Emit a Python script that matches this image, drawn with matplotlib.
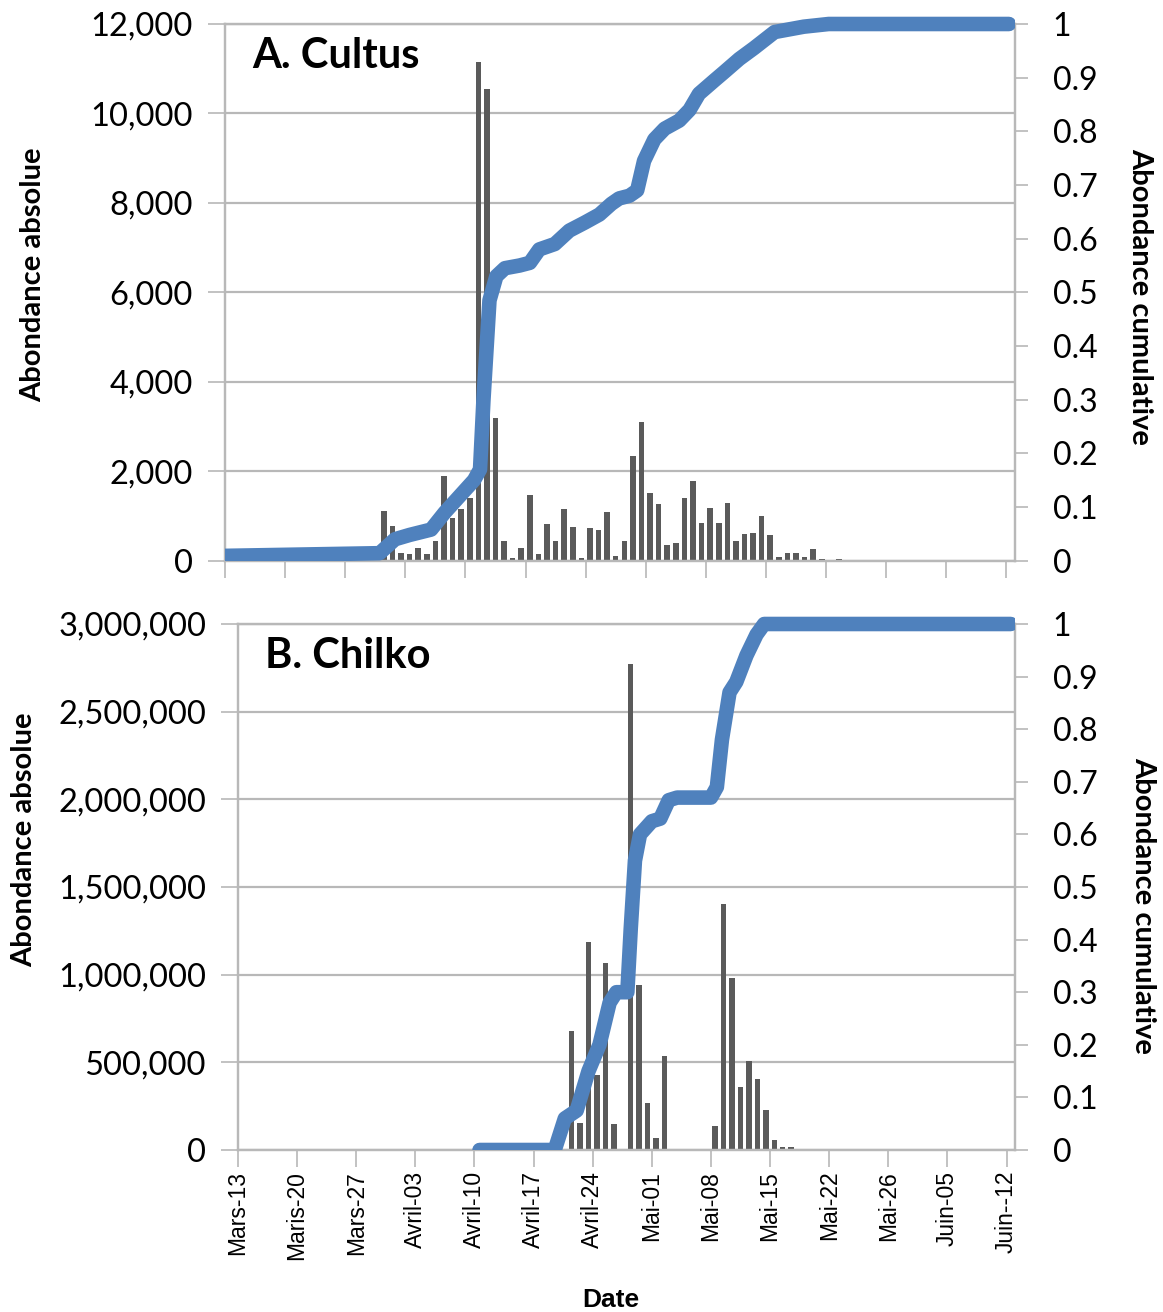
import numpy as np
import matplotlib
matplotlib.use("Agg")
import matplotlib.pyplot as plt
from matplotlib.transforms import Bbox, TransformedBbox

# day 0 = Mars-13, one tick per week
tick_days = np.arange(0, 92, 7)
tick_labels = ["Mars-13", "Maris-20", "Mars-27", "Avril-03", "Avril-10",
               "Avril-17", "Avril-24", "Mai-01", "Mai-08", "Mai-15",
               "Mai-22", "Mai-26", "Juin-05", "Juin--12"]

# Cultus: daily counts from day 18 on
cultus_start = 18
cultus_counts = [1110, 770, 180, 150, 295, 155, 450, 1900, 950, 1150,
                 1400, 11150, 10550, 3180, 450, 55, 280, 1460, 150, 820,
                 448, 1150, 760, 68, 740, 680, 1090, 105, 448, 2330,
                 3090, 1515, 1262, 360, 385, 1410, 1784, 851, 1168, 851,
                 1290, 448, 586, 612, 1000, 564, 90, 179, 179, 90,
                 270, 38, 0, 40]
cultus_cum_day = [0, 18, 19.8, 21.5, 24, 25.6, 27.3, 29, 29.7, 30.1, 30.8,
                  31.6, 32.6, 34.3, 35.5, 36.6, 38.4, 40.1, 41.9, 43.6, 45,
                  45.9, 47.1, 48, 48.8, 50, 51.2, 52.9, 54.1, 55.2, 57,
                  58.1, 59.9, 61.6, 62.8, 64, 65.7, 67.4, 70.3, 91.3]
cultus_cum = [0.009, 0.014, 0.04, 0.048, 0.058, 0.09, 0.12, 0.15, 0.17,
              0.30, 0.485, 0.53, 0.545, 0.55, 0.555, 0.58, 0.59, 0.615,
              0.63, 0.645, 0.665, 0.675, 0.68, 0.69, 0.745, 0.785, 0.805,
              0.82, 0.84, 0.87, 0.895, 0.91, 0.935, 0.955, 0.97, 0.985,
              0.99, 0.995, 1.0, 1.0]

# Chilko: daily counts from day 39 on
chilko_start = 39
chilko_counts = [680000, 155000, 1184000, 425000, 1066000, 150000, 0,
                 2770000, 940000, 266000, 67000, 538000, 0, 0, 0, 0, 0,
                 137000, 1403000, 979000, 361000, 509000, 407000, 228000,
                 57000, 15000, 19000, 7000, 7000]
chilko_cum_day = [28.6, 37.5, 38.7, 40.1, 41.5, 42.8, 44.0, 44.8, 46.1,
                  46.5, 47.0, 47.6, 49.0, 50.0, 51.0, 52.0, 56.0, 56.7,
                  57.3, 58.2, 59.0, 60.2, 61.4, 62.3, 91.5]
chilko_cum = [0, 0, 0.06, 0.075, 0.15, 0.2, 0.28, 0.30, 0.30, 0.42, 0.55,
              0.6, 0.625, 0.63, 0.665, 0.67, 0.67, 0.69, 0.78, 0.87, 0.89,
              0.94, 0.98, 1.0, 1.0]

BAR = "#5a5a5a"
LINE = "#4f81bd"
GRID = "#b8b8b8"
NUM_FONT = "Lato"

W, H = 1163, 1312
fig = plt.figure(figsize=(W / 100, H / 100), dpi=100)


def panel(left, top, right, bottom, start, counts, cum_day, cum, ymax,
          ystep, title, show_dates):
    ax = fig.add_axes([left / W, 1 - bottom / H, (right - left) / W,
                       (bottom - top) / H])
    days = np.arange(start, start + len(counts))
    ax.bar(days + 0.5, counts, width=0.65, color=BAR, zorder=2)
    ax.set_xlim(0, 92)
    ax.set_ylim(0, ymax)
    yt = np.arange(0, ymax + 1, ystep)
    ax.set_yticks(yt)
    ax.set_yticklabels([f"{int(v):,}" for v in yt], fontsize=23.5,
                       family=NUM_FONT)
    ax.yaxis.grid(True, color=GRID, lw=1.6, zorder=0)
    ax.set_axisbelow(True)
    ax.set_xticks(tick_days)
    if show_dates:
        ax.set_xticklabels(tick_labels, rotation=90, fontsize=16.5,
                           family="Liberation Sans")
    else:
        ax.set_xticklabels([])
    ax.tick_params(axis="x", length=12, width=1.2, color=GRID, pad=3)
    ax.tick_params(axis="y", length=12, width=1.2, color=GRID, pad=11)
    for s in ax.spines.values():
        s.set_color(GRID)
        s.set_linewidth(1.6)
    ax.text(0.035, 0.975, title, transform=ax.transAxes, fontsize=30,
            fontweight="bold", family=NUM_FONT, va="top", ha="left")

    ax2 = ax.twinx()
    ax2.set_ylim(0, 1)
    rt = np.round(np.arange(0, 1.01, 0.1), 1)
    ax2.set_yticks(rt)
    ax2.set_yticklabels([f"{v:g}" for v in rt], fontsize=23,
                        family=NUM_FONT)
    ax2.tick_params(axis="y", length=9, width=1.2, color=GRID, pad=18)
    for s in ax2.spines.values():
        s.set_color(GRID)
        s.set_linewidth(1.6)
    ln, = ax2.plot(cum_day, cum, color=LINE, lw=10.5, solid_capstyle="round",
                   solid_joinstyle="round", zorder=3)
    # let the thick line overflow the top edge but not the baseline
    ln.set_clip_box(TransformedBbox(Bbox([[0, 0], [1, 1.05]]),
                                    ax2.transAxes))
    return ax, ax2


a1, b1 = panel(225, 24, 1015, 560.7, cultus_start, cultus_counts,
               cultus_cum_day, cultus_cum, 12000, 2000, "A. Cultus", False)
a2, b2 = panel(238, 624, 1015, 1150, chilko_start, chilko_counts,
               chilko_cum_day, chilko_cum, 3000000, 500000, "B. Chilko", True)

label_kw = dict(ha="center", va="center", fontsize=21, fontweight="bold",
                family=NUM_FONT)
fig.text(33 / W, 1 - 275 / H, "Abondance absolue", rotation=90, **label_kw)
fig.text(24 / W, 1 - 840 / H, "Abondance absolue", rotation=90, **label_kw)
fig.text(1140 / W, 1 - 296 / H, "Abondance cumulative", rotation=270,
         **label_kw)
fig.text(1143 / W, 1 - 905 / H, "Abondance cumulative", rotation=270,
         **label_kw)

fig.text(611 / W, 1 - 1300 / H, "Date", ha="center", va="center",
         fontsize=19, fontweight="bold", family="Liberation Sans")

fig.savefig("out.png", dpi=100)
